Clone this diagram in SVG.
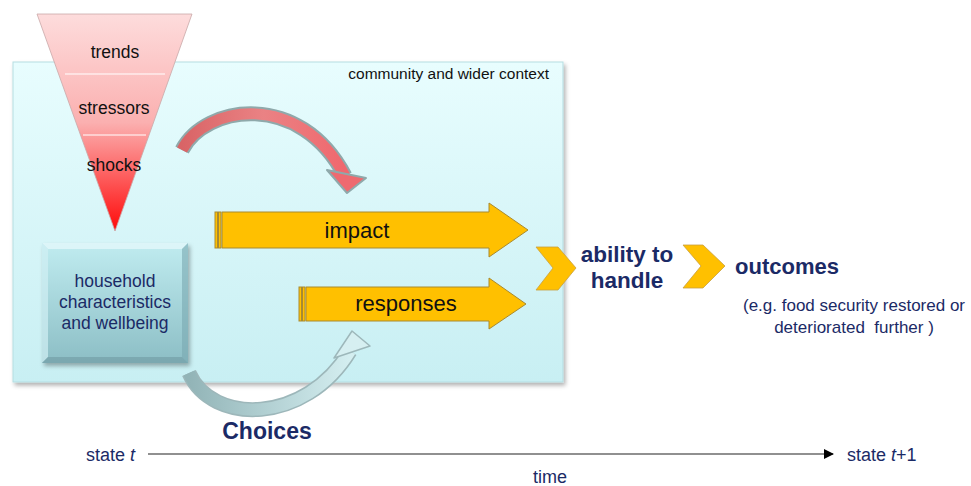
<svg xmlns="http://www.w3.org/2000/svg" width="971" height="486" viewBox="0 0 971 486">
<defs>
<linearGradient id="ctxG" x1="0" y1="0" x2="0" y2="1"><stop offset="0" stop-color="#e8fdfe"/><stop offset="1" stop-color="#c8eff3"/></linearGradient>
<linearGradient id="funG" x1="0" y1="0" x2="0" y2="1"><stop offset="0" stop-color="#fddcdc"/><stop offset="0.5" stop-color="#fbb0b0"/><stop offset="1" stop-color="#ff0a0a"/></linearGradient>
<linearGradient id="hhG" x1="0" y1="0" x2="0" y2="1"><stop offset="0" stop-color="#c0ecf0"/><stop offset="1" stop-color="#8cbec5"/></linearGradient>
<linearGradient id="redG" x1="0" y1="0" x2="1" y2="0"><stop offset="0" stop-color="#d96466"/><stop offset="0.5" stop-color="#ea8284"/><stop offset="1" stop-color="#f0686e"/></linearGradient>
<linearGradient id="greyG" x1="0" y1="0" x2="1" y2="0"><stop offset="0" stop-color="#92b4b7"/><stop offset="1" stop-color="#d4eef0"/></linearGradient>
<marker id="ah" markerWidth="10" markerHeight="10" refX="9" refY="5" orient="auto" markerUnits="userSpaceOnUse"><path d="M0,0 L10,5 L0,10 Z" fill="#000"/></marker>
<filter id="sh" x="-10%" y="-10%" width="120%" height="120%"><feDropShadow dx="2" dy="3" stdDeviation="2" flood-color="#000" flood-opacity="0.3"/></filter>
</defs>
<style>
.t{font-family:"Liberation Sans",Arial,sans-serif;}
.blk{fill:#111;font-size:17.5px;}
.nv{fill:#1b2a66;}
.bar{fill:#ffc000;stroke:#a88a30;stroke-width:1;}
.chev{fill:#ffc000;stroke:#c8a040;stroke-width:0.8;}
</style>
<g id="context">
<rect x="13" y="62" width="550" height="320" fill="url(#ctxG)" stroke="#b5dde2" stroke-width="1" filter="url(#sh)"/>
<text class="t" x="549" y="79" font-size="15.5" text-anchor="end" fill="#111">community and wider context</text>
</g>
<g id="funnel">
<path d="M37,14 L192,14 L115,231 Z" fill="url(#funG)" stroke="#c9a8a8" stroke-width="0.8"/>
<line x1="65" y1="74" x2="165" y2="74" stroke="#fff" stroke-width="1.2"/>
<line x1="83" y1="135" x2="146" y2="135" stroke="#fff" stroke-width="1.2"/>
<text class="t blk" x="115" y="58" text-anchor="middle">trends</text>
<text class="t blk" x="114" y="114" text-anchor="middle">stressors</text>
<text class="t blk" x="114" y="171" text-anchor="middle">shocks</text>
</g>
<g id="household">
<rect x="42" y="243" width="146" height="120" fill="url(#hhG)" filter="url(#sh)"/>
<path d="M42,243 L188,243 L182,249 L48,249 Z" fill="#e4f8fa" opacity="0.8"/>
<path d="M42,243 L48,249 L48,357 L42,363 Z" fill="#d2f0f3" opacity="0.7"/>
<path d="M188,243 L182,249 L182,357 L188,363 Z" fill="#7aa9b0" opacity="0.6"/>
<path d="M42,363 L48,357 L182,357 L188,363 Z" fill="#6f9aa1" opacity="0.6"/>
<text class="t nv" font-size="17.5" text-anchor="middle"><tspan x="115" y="287">household</tspan><tspan x="115" y="308">characteristics</tspan><tspan x="115" y="329">and wellbeing</tspan></text>
</g>
<g id="impact">
<rect x="215" y="212" width="2.5" height="36" class="bar"/>
<rect x="218.5" y="212" width="2.5" height="36" class="bar"/>
<path d="M222,212 L489,212 L489,203 L528,230 L489,257 L489,248 L222,248 Z" class="bar"/>
<text class="t" x="357" y="238" font-size="22" text-anchor="middle" fill="#111">impact</text>
</g>
<g id="responses">
<rect x="299" y="287" width="2.5" height="34" class="bar"/>
<rect x="302.5" y="287" width="2.5" height="34" class="bar"/>
<path d="M306,287 L489,287 L489,278 L526,304 L489,329 L489,321 L306,321 Z" class="bar"/>
<text class="t" x="406" y="311" font-size="22" text-anchor="middle" fill="#111">responses</text>
</g>
<g id="ability">
<path d="M536,247 L558,247 L576,268 L558,290 L536,290 L553,268 Z" class="chev"/>
<text class="t nv" font-size="22.5" font-weight="bold" text-anchor="middle"><tspan x="627" y="262">ability to</tspan><tspan x="627" y="288">handle</tspan></text>
</g>
<g id="outcomes">
<path d="M683,245 L703,245 L725,266 L703,288 L683,288 L701,266 Z" class="chev"/>
<text class="t nv" x="735" y="274" font-size="22" font-weight="bold">outcomes</text>
<text class="t nv" font-size="17" text-anchor="middle" xml:space="preserve" style="white-space:pre"><tspan x="854" y="311">(e.g. food security restored or</tspan><tspan x="854" y="333">deteriorated  further )</tspan></text>
</g>
<g id="connectors">
<path d="M182,150 C205,105 300,90 345,176" fill="none" stroke="#8fa9ab" stroke-width="15"/>
<path d="M182,150 C205,105 300,90 345,176" fill="none" stroke="url(#redG)" stroke-width="11"/>
<path d="M327,170 L347,193 L366,178 Z" fill="#ee6a70" stroke="#8fa9ab" stroke-width="2" stroke-linejoin="round"/>
<path d="M189,373 C212,425 305,425 350,351" fill="none" stroke="#9db7ba" stroke-width="15"/>
<path d="M189,373 C212,425 305,425 350,351" fill="none" stroke="url(#greyG)" stroke-width="12"/>
<path d="M334,358 L352,331 L370,346 Z" fill="#d6eff1" stroke="#9db7ba" stroke-width="1.5" stroke-linejoin="round"/>
<line x1="148" y1="454" x2="833" y2="454" stroke="#222" stroke-width="1.2" marker-end="url(#ah)"/>
</g>
<g id="labels">
<text class="t nv" x="267" y="439" font-size="23" font-weight="bold" text-anchor="middle">Choices</text>
<text class="t nv" x="86" y="461" font-size="18">state <tspan font-style="italic">t</tspan></text>
<text class="t nv" x="847" y="461" font-size="18">state <tspan font-style="italic">t</tspan>+1</text>
<text class="t nv" x="550" y="483" font-size="18" text-anchor="middle">time</text>
</g>
</svg>
